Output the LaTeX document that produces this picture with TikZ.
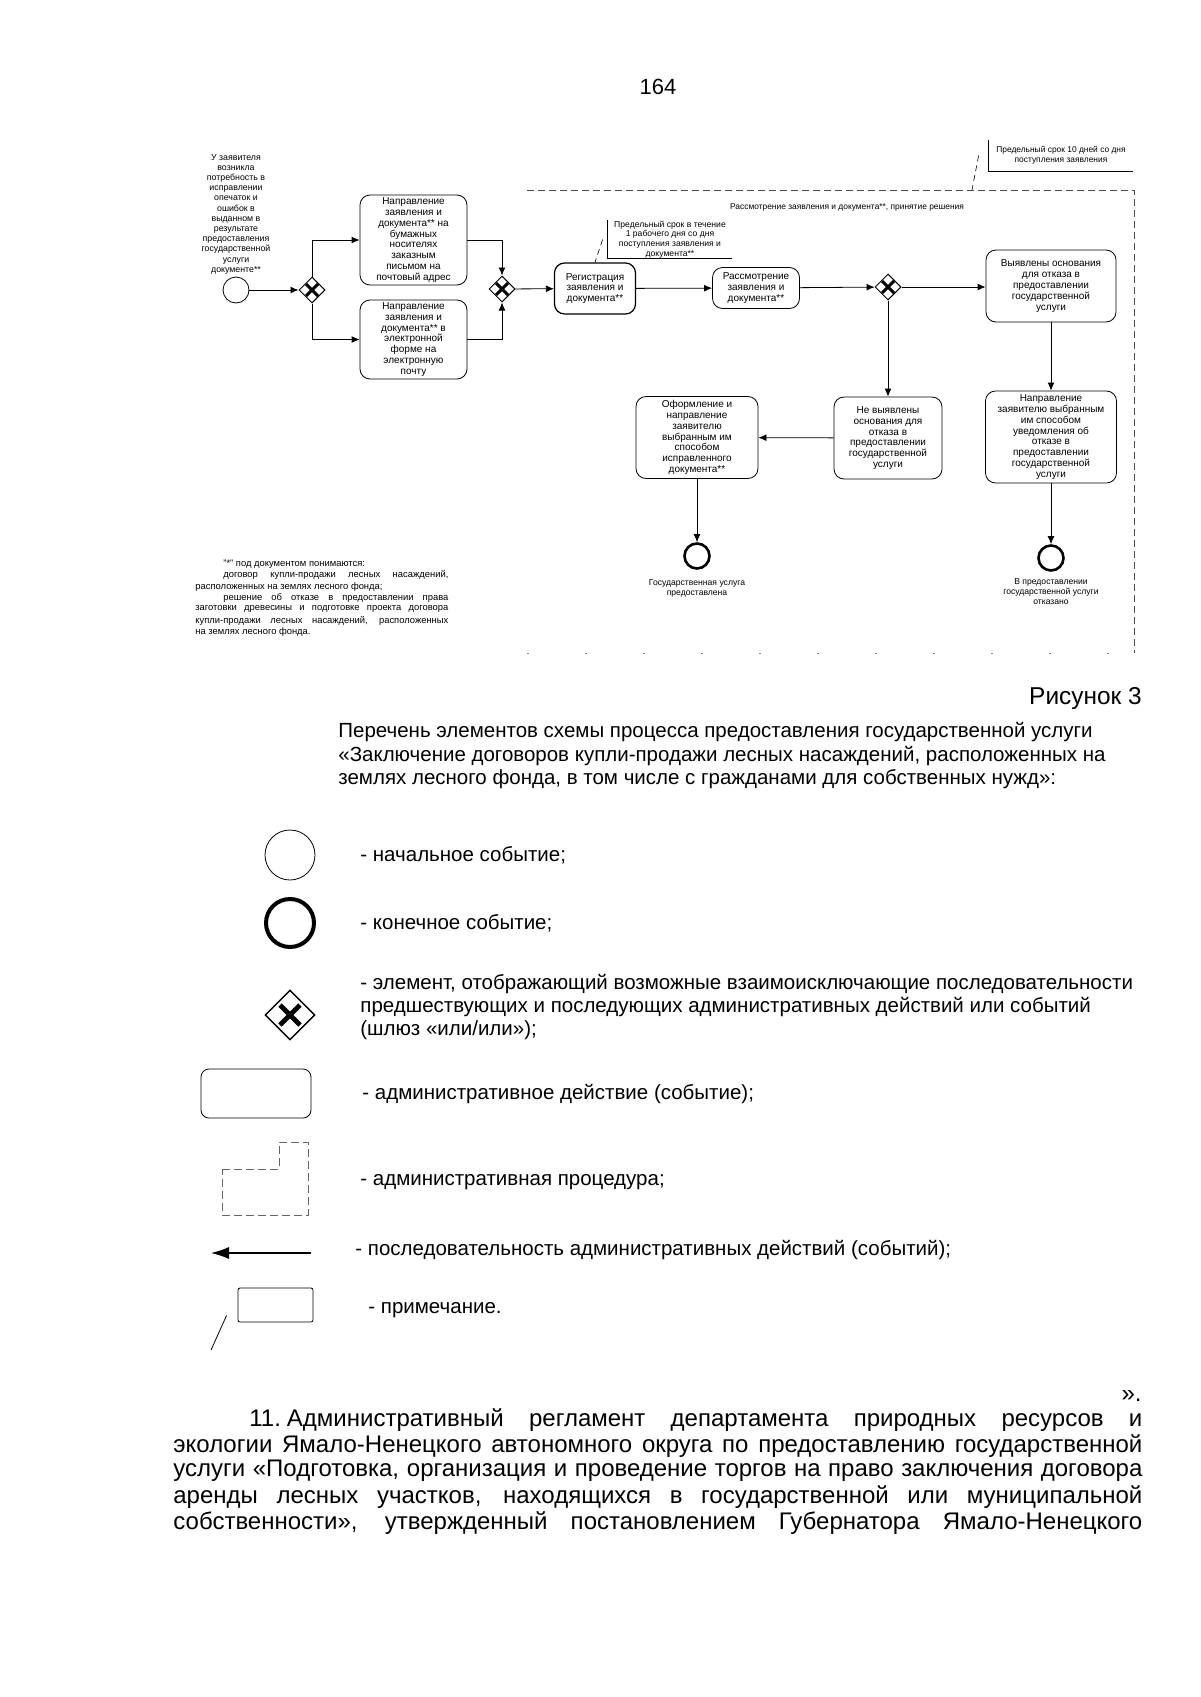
\documentclass[tikz,border=0pt]{standalone}
\usepackage{fontspec}
\setmainfont{Liberation Sans}
\usetikzlibrary{arrows.meta,positioning,shapes.geometric}

\begin{document}
\begin{tikzpicture}[x=0.5pt,y=-0.5pt,
    act/.style={rectangle,rounded corners=5pt,draw,line width=0.4pt,align=center,
      inner sep=0pt,font=\fontsize{5}{5.4}\selectfont},
    gate/.style={diamond,draw,line width=0.5pt,inner sep=0pt,minimum size=13pt},
    startev/.style={circle,draw,line width=0.4pt,inner sep=0pt,minimum size=13pt},
    endev/.style={circle,draw,line width=1.3pt,inner sep=0pt,minimum size=12.5pt},
    evlabel/.style={align=center,inner sep=0pt,font=\fontsize{4.3}{5}\selectfont},
    note/.style={inner sep=0pt,align=center,font=\fontsize{4.2}{4.9}\selectfont},
    notelink/.style={densely dashed,line width=0.3pt},
    flow/.style={-{Latex[length=4pt,width=3.4pt]},line width=0.4pt},
    lane/.style={dash pattern=on 3.5pt off 2pt,line width=0.4pt,black!70},
    legtxt/.style={anchor=west,inner sep=0pt,align=left,font=\fontsize{10.25}{11.5}\selectfont},
    bodytxt/.style={anchor=west,inner sep=0pt,font=\fontsize{12}{13}\selectfont},
    fnote/.style={anchor=west,inner sep=0pt,font=\fontsize{4.7}{5.6}\selectfont}
  ]
  \useasboundingbox (0,0) rectangle (1200,1697);

  \node[font=\fontsize{11}{12}\selectfont] (pagenum) at (658,87) {164};

  % lane and notes
  \draw[lane] (527,190) -- (1134,190) -- (1134,653);
  \draw[lane,dash pattern=on 1pt off 28pt,black!50] (527,653) -- (1134,653);
  \node[note] (lanelbl) at (847,207) {Рассмотрение заявления и документа**, принятие решения};
  \node[note,minimum width=72pt,minimum height=15.5pt] (topnote) at (1061,155.5)
    {Предельный срок 10 дней со дня\\поступления заявления};
  \draw[line width=0.3pt] (topnote.north west) |- (topnote.south east);
  \coordinate (lanetop) at (972,190);
  \draw[notelink] ([xshift=-5pt]topnote.west) -- (lanetop);

  % start
  \node[evlabel,font=\fontsize{4.4}{5.1}\selectfont] (starttxt) at (236,214)
    {У заявителя\\возникла\\потребность в\\исправлении\\опечаток и\\ошибок в\\выданном в\\результате\\предоставления\\государственной\\услуги\\документе**};
  \node[startev] (start) at (236,290) {};
  \node[gate] (g1) at (312,290) {};
  \node[act,minimum width=53.5pt,minimum height=45pt] (boxpost) at (413.5,240)
    {Направление\\заявления и\\документа** на\\бумажных\\носителях\\заказным\\письмом на\\почтовый адрес};
  \node[act,minimum width=53.5pt,minimum height=39.5pt] (boxmail) at (413.5,339.5)
    {Направление\\заявления и\\документа** в\\электронной\\форме на\\электронную\\почту};
  \node[gate] (g2) at (502,289) {};

  \node[act,line width=0.6pt,minimum width=40.5pt,minimum height=25.5pt] (reg) at (595,288.5)
    {Регистрация\\заявления и\\документа**};
  \node[note,font=\fontsize{4.3}{4.9}\selectfont,minimum width=62pt,minimum height=17.5pt] (regnote) at (670,239.5)
    {Предельный срок в течение\\1 рабочего дня со дня\\поступления заявления и\\документа**};
  \draw[line width=0.3pt] (regnote.north west) |- (regnote.south east);
  \draw[notelink] ([xshift=-2.5pt]regnote.west) -- (reg.north);

  \node[act,minimum width=43.5pt,minimum height=20.5pt] (rassm) at (756,288)
    {Рассмотрение\\заявления и\\документа**};
  \node[gate] (g3) at (888,287) {};
  \node[act,minimum width=65pt,minimum height=36pt] (osn) at (1051,286)
    {Выявлены основания\\для отказа в\\предоставлении\\государственной\\услуги};
  \node[act,minimum width=54pt,minimum height=41pt] (neosn) at (888,438)
    {Не выявлены\\основания для\\отказа в\\предоставлении\\государственной\\услуги};
  \node[act,minimum width=61pt,minimum height=41pt] (oform) at (697,437.5)
    {Оформление и\\направление\\заявителю\\выбранным им\\способом\\исправленного\\документа**};
  \node[act,minimum width=65.5pt,minimum height=46pt] (uved) at (1051,437)
    {Направление\\заявителю выбранным\\им способом\\уведомления об\\отказе в\\предоставлении\\государственной\\услуги};

  \node[endev] (end1) at (697,556) {};
  \node[evlabel] (end1txt) at (697,588) {Государственная услуга\\предоставлена};
  \node[endev] (end2) at (1051,558) {};
  \node[evlabel] (end2txt) at (1051,592) {В предоставлении\\государственной услуги\\отказано};

  \foreach \g in {g1,g2,g3}{
    \draw[line width=1.5pt] ([shift={(-3pt,-3pt)}]\g.center) -- ([shift={(3pt,3pt)}]\g.center);
    \draw[line width=1.5pt] ([shift={(-3pt,3pt)}]\g.center) -- ([shift={(3pt,-3pt)}]\g.center);
  }

  \draw[flow] (start) -- (g1);
  \draw[flow] (g1.north) |- (boxpost.west);
  \draw[flow] (g1.south) |- (boxmail.west);
  \draw[flow] (boxpost.east) -| (g2.north);
  \draw[flow] (boxmail.east) -| (g2.south);
  \draw[flow] (g2) -- (reg);
  \draw[flow] (reg) -- (rassm);
  \draw[flow] (rassm) -- (g3);
  \draw[flow] (g3) -- (osn.west |- g3);
  \draw[flow] (g3) -- (neosn);
  \draw[flow] (neosn) -- (oform);
  \draw[flow] (oform) -- (end1);
  \draw[flow] (osn) -- (uved);
  \draw[flow] (uved) -- (end2);

  % footnote
  \node[fnote] (fn1) at (223,564) {"*" под документом понимаются:};
  \node[fnote] (fn2) at (223,575.3) {\makebox[112.5pt][s]{договор купли-продажи лесных насаждений,}};
  \node[fnote] (fn3) at (195,586.6) {расположенных на землях лесного фонда;};
  \node[fnote] (fn4) at (223,597.9) {\makebox[112.5pt][s]{решение об отказе в предоставлении права}};
  \node[fnote] (fn5) at (195,609.2) {\makebox[126.5pt][s]{заготовки древесины и подготовке проекта договора}};
  \node[fnote] (fn6) at (195,620.5) {\makebox[126.5pt][s]{купли-продажи лесных насаждений, расположенных}};
  \node[fnote] (fn7) at (195,631.8) {на землях лесного фонда.};

  % caption and legend
  \node[anchor=east,inner sep=0pt,font=\fontsize{12.2}{13}\selectfont] (fig) at (1142,699) {Рисунок 3};
  \node[legtxt,font=\fontsize{10.25}{11.75}\selectfont] (head) at (338,756)
    {Перечень элементов схемы процесса предоставления государственной услуги\\
     «Заключение договоров купли-продажи лесных насаждений, расположенных на\\
     землях лесного фонда, в том числе с гражданами для собственных нужд»:};

  \node[startev,minimum size=25pt] (lstart) at (290,855) {};
  \node[endev,line width=2pt,minimum size=24pt] (lend) at (290,923) {};
  \node[gate,line width=0.7pt,minimum size=25pt] (lgate) at (290,1015) {};
  \draw[line width=2.4pt] ([shift={(-5pt,-5pt)}]lgate.center) -- ([shift={(5pt,5pt)}]lgate.center);
  \draw[line width=2.4pt] ([shift={(-5pt,5pt)}]lgate.center) -- ([shift={(5pt,-5pt)}]lgate.center);
  \node[act,rounded corners=4pt,minimum width=55pt,minimum height=24.5pt] (lact) at (256,1093.5) {};
  \draw[dash pattern=on 4pt off 2pt,line width=0.5pt,black!60]
    (222,1169) -- (279,1169) -- (279,1142) -- (308,1142) -- (308,1215) -- (222,1215) -- cycle;
  \coordinate (larrs) at (311,1253);
  \coordinate (larre) at (211,1253);
  \draw[-{Latex[length=9pt,width=6pt]},line width=0.6pt] (larrs) -- (larre);
  \node[draw,line width=0.4pt,rounded corners=1pt,minimum width=37.5pt,minimum height=17pt] (lnote) at (275.5,1305) {};
  \coordinate (lslash) at (211,1350);
  \draw[line width=0.4pt] ([xshift=-5.5pt,yshift=3.5pt]lnote.south west) -- (lslash);

  \node[legtxt] (tstart) at (360,855) {- начальное событие;};
  \node[legtxt] (tend) at (360,923) {- конечное событие;};
  \node[legtxt] (tgate) at (360,1007) {- элемент, отображающий возможные взаимоисключающие последовательности\\
    предшествующих и последующих административных действий или событий\\
    (шлюз «или/или»);};
  \node[legtxt] (tact) at (362,1094) {- административное действие (событие);};
  \node[legtxt] (tproc) at (360,1182) {- административная процедура;};
  \node[legtxt] (tarr) at (355,1250) {- последовательность административных действий (событий);};
  \node[legtxt] (tnote) at (368,1310) {- примечание.};

  % body text
  \node[bodytxt,anchor=east] (quote) at (1142,1396) {».};
  \node[bodytxt] (body1) at (249,1420) {\makebox[446.5pt][s]{11.\hspace{3pt}Административный регламент департамента природных ресурсов и}};
  \node[bodytxt] (body2) at (173,1446) {\makebox[484.5pt][s]{экологии Ямало-Ненецкого автономного округа по предоставлению государственной}};
  \node[bodytxt] (body3) at (173,1471) {\makebox[484.5pt][s]{услуги «Подготовка, организация и проведение торгов на право заключения договора}};
  \node[bodytxt] (body4) at (173,1497) {\makebox[484.5pt][s]{аренды лесных участков, находящихся в государственной или муниципальной}};
  \node[bodytxt] (body5) at (173,1523) {\makebox[484.5pt][s]{собственности», утвержденный постановлением Губернатора Ямало-Ненецкого}};
\end{tikzpicture}
\end{document}
